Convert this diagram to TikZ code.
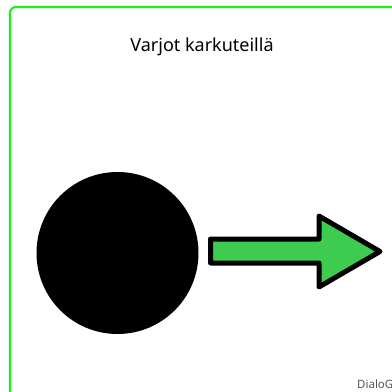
\documentclass[tikz,border=0pt]{standalone}
\usepackage{fontspec}
\setmainfont{Noto Sans}
\definecolor{framegreen}{RGB}{25,240,25}
\definecolor{arrowgreen}{RGB}{61,204,80}
\definecolor{markgray}{RGB}{85,85,85}

\begin{document}
\begin{tikzpicture}[x=1pt,y=-1pt]
  \useasboundingbox (0,0) rectangle (392,392);
  \fill[white] (0,0) rectangle (392,392);
  \draw[framegreen,line width=2.2pt,rounded corners=6pt] (10,7) rectangle (400,400);
  \node[font=\fontsize{18}{21}\selectfont] (title) at (202,47) {Varjot karkuteillä};
  \fill[black] (117.5,253) circle (81);
  \draw[black,fill=arrowgreen,line width=5pt,line join=round]
    (210.5,239) -- (319,239) -- (319,216) -- (380,251.5) -- (319,287) -- (319,263) -- (210.5,263) -- cycle;
  \node[markgray,anchor=base west,inner sep=0pt,font=\fontsize{11.5}{13}\selectfont] (mark) at (357,388) {DialoG};
\end{tikzpicture}
\end{document}
